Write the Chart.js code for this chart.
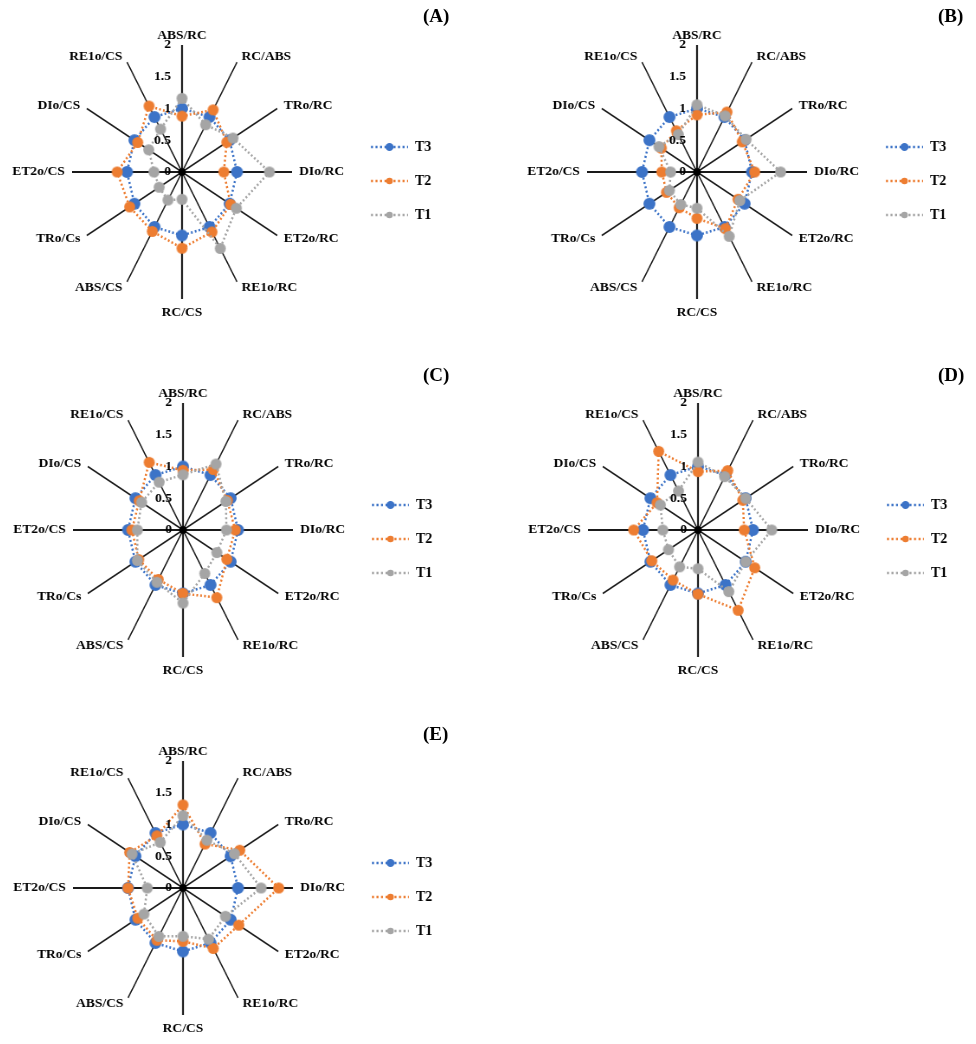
<!DOCTYPE html>
<html><head><meta charset="utf-8">
<script src="https://cdn.jsdelivr.net/npm/chart.js@4.4.1/dist/chart.umd.min.js"></script>
<style>
html,body{margin:0;padding:0;background:#fff;width:976px;height:1044px;overflow:hidden;position:relative;}
.panel{position:absolute;}
.panel canvas{display:block;transform-origin:200px 0;}
.tag{position:absolute;font:bold 19px "Liberation Serif","Times New Roman",serif;color:#000;white-space:nowrap;}
</style></head><body>
<script>
// ---- data ----
const categories = ['ABS/RC','RC/ABS','TRo/RC','DIo/RC','ET2o/RC','RE1o/RC','RC/CS','ABS/CS','TRo/Cs','ET2o/CS','DIo/CS','RE1o/CS'];
const seriesNames = ['T3','T2','T1'];
const tickValues = [0, 0.5, 1, 1.5, 2];
const panelNames = ['(A)','(B)','(C)','(D)','(E)'];

const A_T3 = [1,1,1,1,1,1,1,1,1,1,1,1];
const A_T2 = [0.88,1.13,0.94,0.76,1.02,1.09,1.20,1.08,1.10,1.18,0.93,1.20];
const A_T1 = [1.16,0.86,1.07,1.59,1.14,1.39,0.43,0.51,0.48,0.51,0.70,0.78];

const B_T3 = [1,1,1,1,1,1,1,1,1,1,1,1];
const B_T2 = [0.90,1.09,0.95,1.05,0.86,1.03,0.73,0.65,0.64,0.64,0.75,0.75];
const B_T1 = [1.06,1.02,1.03,1.52,0.90,1.17,0.57,0.59,0.58,0.48,0.80,0.68];

const C_T3 = [1,1,1,1,1,1,1,1,1,1,1,1];
const C_T2 = [0.94,1.10,0.93,0.95,0.92,1.23,1.00,0.90,0.93,0.93,0.92,1.23];
const C_T1 = [0.87,1.20,0.90,0.79,0.71,0.79,1.15,0.95,0.96,0.83,0.87,0.87];

const D_T3 = [1,1,1,1,1,1,1,1,1,1,1,1];
const D_T2 = [0.92,1.08,0.94,0.84,1.19,1.46,1.01,0.91,0.97,1.17,0.86,1.43];
const D_T1 = [1.07,0.97,1.00,1.34,1.00,1.12,0.61,0.67,0.62,0.64,0.79,0.71];

const E_T3 = [1,1,1,1,1,1,1,1,1,1,1,1];
const E_T2 = [1.31,0.80,1.19,1.74,1.17,1.10,0.84,0.95,0.95,1.00,1.12,0.95];
const E_T1 = [1.14,0.87,1.08,1.42,0.89,0.93,0.76,0.88,0.82,0.65,1.07,0.83];

const panelSeries = [[A_T3,A_T2,A_T1],[B_T3,B_T2,B_T1],[C_T3,C_T2,C_T1],[D_T3,D_T2,D_T1],[E_T3,E_T2,E_T1]];

// ---- styling / layout ----
const colors = ['#3C73C7','#ED7D31','#A5A5A5'];
const markerR = [6, 5.5, 5.5];
const legendR = [4, 3.3, 3.3];
const SX = 0.866;               // horizontal squeeze of the original picture
const centers = [[182,172],[697,172],[183,530],[698,530],[183,888]];
const tagPos = [[423,5],[938,5],[423,364],[938,364],[423,723]];
const FONT = 'bold 13.5px "Liberation Serif", "Times New Roman", serif';

function makeDot(color, r){
  const c = document.createElement('canvas');
  c.width = Math.ceil(2*r/SX)+2; c.height = Math.ceil(2*r)+2;
  const g = c.getContext('2d');
  g.fillStyle = color;
  g.beginPath(); g.ellipse(c.width/2, c.height/2, r/SX, r, 0, 0, Math.PI*2); g.fill();
  return c;
}

const overlay = {
  id:'overlay',
  afterDraw(chart){
    const ctx = chart.ctx, sc = chart.scales.r;
    const cx = sc.xCenter, cy = sc.yCenter, R = sc.drawingArea;
    const toU = X => cx + (X - cx) * SX;
    ctx.save();
    ctx.translate(cx,0); ctx.scale(1/SX,1); ctx.translate(-cx,0);
    // centre dot
    ctx.fillStyle = '#000';
    ctx.beginPath(); ctx.arc(cx, cy, 3.8, 0, Math.PI*2); ctx.fill();
    ctx.font = FONT;
    // tick labels
    ctx.textAlign = 'right'; ctx.textBaseline = 'middle';
    sc.ticks.forEach(t => {
      const d = sc.getDistanceFromCenterForValue(t.value);
      ctx.fillText(t.label, cx - 11, cy - d);
    });
    // point labels
    const n = chart.data.labels.length;
    chart.data.labels.forEach((lab, i) => {
      const deg = i*360/n;
      const p = sc.getPointPosition(i, R + 6);
      let x = toU(p.x), y = p.y;
      if (deg === 0){ ctx.textAlign='center'; ctx.textBaseline='alphabetic'; }
      else if (deg === 180){ ctx.textAlign='center'; ctx.textBaseline='top'; y += 1; }
      else if (deg < 180){ ctx.textAlign='left'; ctx.textBaseline='middle'; x += 2; }
      else { ctx.textAlign='right'; ctx.textBaseline='middle'; x -= 2; }
      ctx.fillText(lab, x, y);
    });
    // legend
    chart.data.datasets.forEach((ds, j) => {
      const y = cy - 25 + j*34;
      const x0 = cx + 189, x1 = cx + 226;
      ctx.strokeStyle = colors[j]; ctx.lineWidth = 2.5; ctx.setLineDash([2,2.5]);
      ctx.beginPath(); ctx.moveTo(x0, y); ctx.lineTo(x1, y); ctx.stroke();
      ctx.setLineDash([]);
      ctx.fillStyle = colors[j];
      ctx.beginPath(); ctx.arc((x0+x1)/2, y, legendR[j], 0, Math.PI*2); ctx.fill();
      ctx.fillStyle = '#000'; ctx.textAlign='left'; ctx.textBaseline='middle';
      ctx.font = 'bold 14px "Liberation Serif", "Times New Roman", serif';
      ctx.fillText(ds.label, x1 + 7, y);
    });
    ctx.restore();
  }
};

panelSeries.forEach((series, k) => {
  const [cx, cy] = centers[k];
  const div = document.createElement('div');
  div.className = 'panel';
  div.style.left = (cx - 200) + 'px';
  div.style.top = (cy - 170) + 'px';
  const cv = document.createElement('canvas');
  cv.width = 500; cv.height = 340;
  cv.style.width = '500px'; cv.style.height = '340px';
  cv.style.transform = 'scaleX(' + SX + ')';
  div.appendChild(cv);
  document.body.appendChild(div);

  const tag = document.createElement('div');
  tag.className = 'tag';
  tag.textContent = panelNames[k];
  tag.style.left = tagPos[k][0] + 'px'; tag.style.top = tagPos[k][1] + 'px';
  document.body.appendChild(tag);

  new Chart(cv, {
    type:'radar',
    data:{
      labels: categories,
      datasets: series.map((vals, j) => ({
        label: seriesNames[j],
        data: vals,
        order: 3 - j,
        borderColor: colors[j],
        backgroundColor: colors[j],
        borderWidth: 2.5,
        borderDash: [2, 2.5],
        fill: false,
        tension: 0,
        pointStyle: makeDot(colors[j], markerR[j]),
        pointRadius: 5,
        pointHoverRadius: 5
      }))
    },
    options:{
      responsive:false,
      devicePixelRatio:1,
      animation:false,
      events:[],
      layout:{padding:{left:73,right:173,top:43,bottom:43}},
      plugins:{legend:{display:false},tooltip:{enabled:false}},
      scales:{
        r:{
          min:0, max:2,
          afterBuildTicks: s => { s.ticks = tickValues.map(v => ({value:v})); },
          ticks:{display:false, callback: v => String(v)},
          grid:{display:false},
          angleLines:{display:true, color:'#1a1a1a',
            lineWidth: c => (c.index % 3 === 0 ? 2.2 : 1.5)},
          pointLabels:{display:false}
        }
      }
    },
    plugins:[overlay]
  });
});
</script>
</body></html>
